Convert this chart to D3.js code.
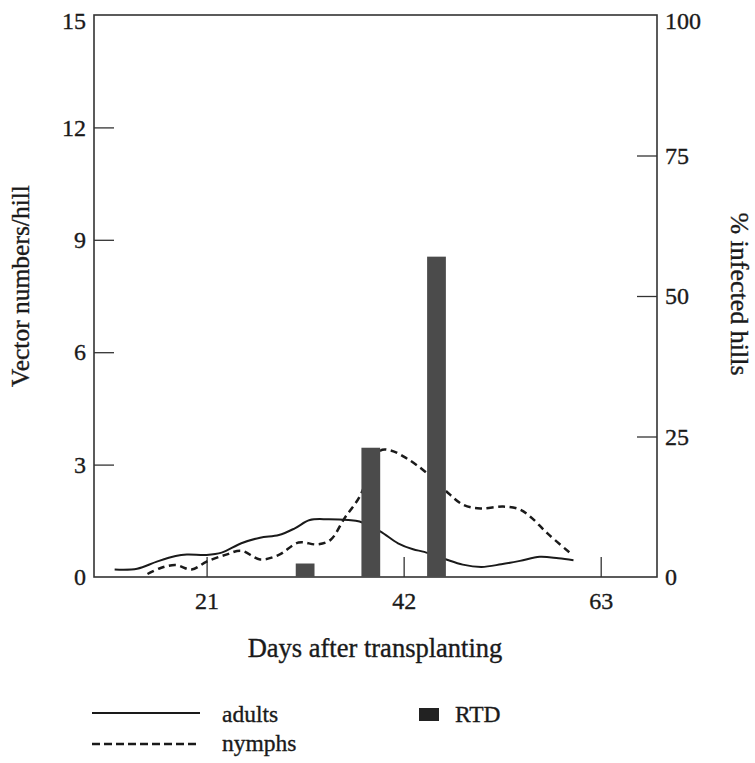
<!DOCTYPE html>
<html>
<head>
<meta charset="utf-8">
<script src="https://cdn.jsdelivr.net/npm/d3@7"></script>
<style>
  html, body { margin: 0; padding: 0; background: #fff; }
  svg { display: block; }
  text { font-family: "Liberation Serif", "Times New Roman", serif; fill: #1a1a1a; stroke: #1a1a1a; stroke-width: 0.35px; }
</style>
</head>
<body>
<svg id="chart" width="755" height="763"></svg>
<script>
// Vector population (left axis) traced over days after transplanting
const adultDays = [11.2, 13.6, 15.7, 17.7, 18.9, 21.0, 22.6, 24.7, 26.7, 28.7, 30.4, 32.0, 34.0, 36.1, 37.3, 39.5, 41.4, 43.0, 44.2, 46.4, 48.3, 50.3, 52.4, 54.4, 56.5, 58.5, 60.1];
const adultVals = [0.20, 0.22, 0.41, 0.56, 0.60, 0.59, 0.65, 0.90, 1.05, 1.12, 1.30, 1.52, 1.54, 1.52, 1.48, 1.22, 0.90, 0.74, 0.67, 0.48, 0.33, 0.27, 0.34, 0.43, 0.54, 0.50, 0.45];

const nymphDays = [14.7, 16.1, 17.7, 19.4, 21.0, 23.0, 24.7, 26.7, 28.7, 30.8, 32.8, 34.2, 35.7, 37.3, 39.5, 40.7, 42.3, 44.3, 46.4, 48.4, 50.2, 52.6, 54.3, 55.5, 57.3, 59.8];
const nymphVals = [0.08, 0.24, 0.32, 0.20, 0.41, 0.59, 0.70, 0.47, 0.59, 0.92, 0.87, 0.99, 1.57, 2.14, 3.37, 3.37, 3.17, 2.81, 2.32, 1.92, 1.83, 1.88, 1.81, 1.61, 1.17, 0.63];

// Rice tungro disease incidence (right axis, %)
const rtdDays = [31.5, 38.5, 45.5];
const rtdVals = [2.4, 23, 57];

const xTicks = [21, 42, 63];
const yLeftTicks = [0, 3, 6, 9, 12, 15];
const yRightTicks = [0, 25, 50, 75, 100];

const margin = { left: 94, top: 15, right: 657, bottom: 577 };
const ink = "#1a1a1a";
const barFill = "#4b4b4b";

const svg = d3.select("#chart");

const x = d3.scaleLinear().domain([9, 69]).range([margin.left, margin.right]);
const yL = d3.scaleLinear().domain([0, 15]).range([margin.bottom, margin.top]);
const yR = d3.scaleLinear().domain([0, 100]).range([margin.bottom, margin.top]);

const tickLen = 20;
const fontTick = 24;

// Frame
svg.append("rect")
  .attr("x", margin.left).attr("y", margin.top)
  .attr("width", margin.right - margin.left)
  .attr("height", margin.bottom - margin.top)
  .attr("fill", "none").attr("stroke", "#333").attr("stroke-width", 1.6);

// Left axis: inward ticks, labels outside
const leftAxis = d3.axisLeft(yL).tickValues(yLeftTicks).tickSize(-tickLen).tickPadding(8);
const gL = svg.append("g").attr("transform", `translate(${margin.left},0)`).call(leftAxis);

// Right axis
const rightAxis = d3.axisRight(yR).tickValues(yRightTicks).tickSize(-tickLen).tickPadding(8);
const gR = svg.append("g").attr("transform", `translate(${margin.right},0)`).call(rightAxis);

// Bottom axis: ticks pointing up into the plot
const bottomAxis = d3.axisBottom(x).tickValues(xTicks).tickSize(-tickLen).tickPadding(15);
const gB = svg.append("g").attr("transform", `translate(0,${margin.bottom})`).call(bottomAxis);

[gL, gR, gB].forEach(g => {
  g.select(".domain").remove();
  g.selectAll(".tick line").attr("stroke", "#333").attr("stroke-width", 1.3);
  g.selectAll(".tick text")
    .attr("fill", ink)
    .style("font-family", '"Liberation Serif", serif')
    .style("font-size", fontTick + "px");
});
// ticks at the frame corners coincide with the frame itself
gL.selectAll(".tick line").filter(d => d === 0 || d === 15).remove();
gR.selectAll(".tick line").filter(d => d === 0 || d === 100).remove();
// top labels sit just below the upper frame edge
gL.selectAll(".tick text").filter(d => d === 15).attr("dy", "0.55em");
gR.selectAll(".tick text").filter(d => d === 100).attr("dy", "0.55em");

// Vector lines
const lineAdults = d3.line()
  .x((d, i) => x(adultDays[i])).y(d => yL(d))
  .curve(d3.curveCatmullRom.alpha(0.5));
const lineNymphs = d3.line()
  .x((d, i) => x(nymphDays[i])).y(d => yL(d))
  .curve(d3.curveCatmullRom.alpha(0.5));

svg.append("path").datum(adultVals)
  .attr("d", lineAdults)
  .attr("fill", "none").attr("stroke", ink).attr("stroke-width", 2);

svg.append("path").datum(nymphVals)
  .attr("d", lineNymphs)
  .attr("fill", "none").attr("stroke", ink).attr("stroke-width", 2.5)
  .attr("stroke-dasharray", "7,4.5");

// RTD bars (2-day wide), drawn over the lines
svg.append("g").selectAll("rect").data(rtdVals).join("rect")
  .attr("x", (d, i) => x(rtdDays[i] - 1))
  .attr("width", (d, i) => x(rtdDays[i] + 1) - x(rtdDays[i] - 1))
  .attr("y", d => yR(d))
  .attr("height", d => yR(0) - yR(d))
  .attr("fill", barFill);

// Axis titles
svg.append("text")
  .attr("transform", `translate(29,286) rotate(-90)`)
  .attr("text-anchor", "middle")
  .style("font-size", "25.5px")
  .text("Vector numbers/hill");

svg.append("text")
  .attr("transform", `translate(731,294) rotate(90)`)
  .attr("text-anchor", "middle")
  .style("font-size", "26px")
  .text("% infected hills");

svg.append("text")
  .attr("x", 375)
  .attr("y", 657)
  .attr("text-anchor", "middle")
  .style("font-size", "26.5px")
  .text("Days after transplanting");

// Legend
const legend = svg.append("g");
legend.append("line")
  .attr("x1", 92).attr("x2", 200).attr("y1", 713).attr("y2", 713)
  .attr("stroke", ink).attr("stroke-width", 2.2);
legend.append("text").attr("x", 222).attr("y", 722).style("font-size", "23.5px").text("adults");

legend.append("line")
  .attr("x1", 92).attr("x2", 196).attr("y1", 744).attr("y2", 744)
  .attr("stroke", ink).attr("stroke-width", 2.4).attr("stroke-dasharray", "8,4");
legend.append("text").attr("x", 222).attr("y", 751).style("font-size", "23.5px").text("nymphs");

legend.append("rect")
  .attr("x", 419).attr("y", 708).attr("width", 20).attr("height", 13)
  .attr("fill", "#222");
legend.append("text").attr("x", 455).attr("y", 722).style("font-size", "23.5px").text("RTD");
</script>
</body>
</html>
